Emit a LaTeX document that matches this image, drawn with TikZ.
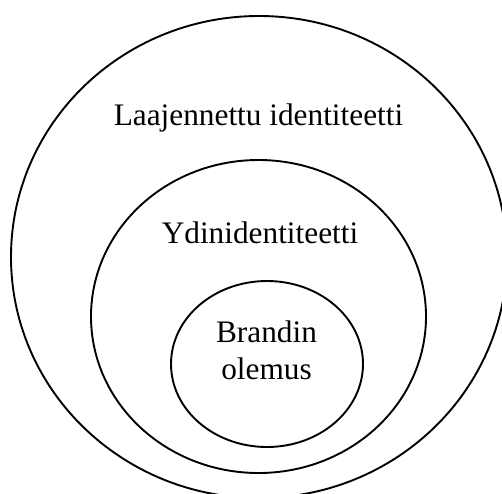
\documentclass[tikz,border=0pt]{standalone}
\usepackage{fontspec}
\setmainfont{Liberation Serif}
\usetikzlibrary{shapes.geometric}
\begin{document}
\begin{tikzpicture}[x=1pt,y=-1pt,
  ring/.style={ellipse, draw, line width=1.9pt, inner sep=0pt},
  label/.style={anchor=base, inner sep=0pt, font=\fontsize{31.3}{37}\selectfont}]
  \useasboundingbox (0,0) rectangle (502,493);
  % nested ellipses, outermost first
  \node[ring, minimum width=496pt, minimum height=482pt] (outer) at (259,257) {};
  \node[ring, minimum width=335pt, minimum height=313pt] (middle) at (258.5,316.5) {};
  \node[ring, minimum width=192pt, minimum height=166pt] (inner) at (267,364) {};
  % labels
  \node[label] (lbouter) at (258.5,125) {Laajennettu identiteetti};
  \node[label] (lbmiddle) at (260,243) {Ydinidentiteetti};
  \node[label] (lbinner1) at (266.5,342) {Brandin};
  \node[label] (lbinner2) at (266.5,379) {olemus};
\end{tikzpicture}
\end{document}
